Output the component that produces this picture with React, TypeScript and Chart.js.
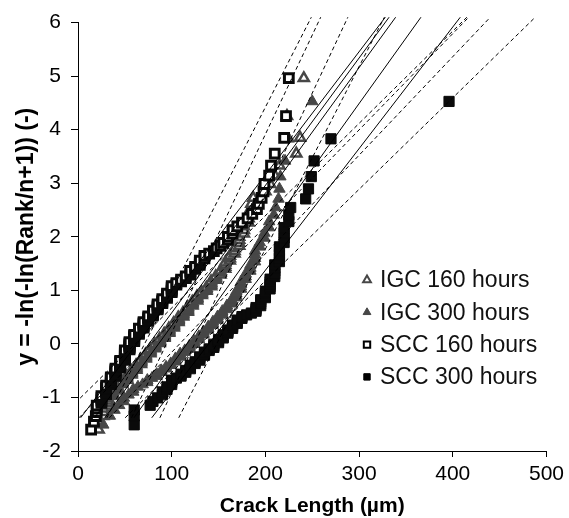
import React, { useEffect, useRef } from 'react';
import { Chart, registerables } from 'chart.js';

Chart.register(...registerables);

const FONT = "'Liberation Sans', Arial, Helvetica, sans-serif";

// Plotting positions y = -ln(-ln(Rank/(n+1))), n = 141 (160 h series)
const yN141 = [
  -1.601, -1.45, -1.35, -1.273, -1.208, -1.152, -1.102, -1.057, -1.015, -0.976,
  -0.939, -0.905, -0.872, -0.84, -0.81, -0.781, -0.753, -0.725, -0.699, -0.673,
  -0.648, -0.623, -0.599, -0.575, -0.552, -0.529, -0.507, -0.485, -0.463, -0.441,
  -0.42, -0.399, -0.378, -0.357, -0.337, -0.317, -0.296, -0.276, -0.256, -0.237,
  -0.217, -0.197, -0.178, -0.158, -0.139, -0.12, -0.1, -0.081, -0.062, -0.043,
  -0.024, -0.005, 0.015, 0.034, 0.053, 0.072, 0.091, 0.111, 0.13, 0.149,
  0.169, 0.188, 0.207, 0.227, 0.247, 0.266, 0.286, 0.306, 0.326, 0.346,
  0.367, 0.387, 0.408, 0.428, 0.449, 0.47, 0.491, 0.512, 0.534, 0.555,
  0.577, 0.6, 0.622, 0.644, 0.667, 0.69, 0.714, 0.737, 0.761, 0.785,
  0.81, 0.835, 0.86, 0.886, 0.912, 0.938, 0.965, 0.992, 1.02, 1.048,
  1.077, 1.106, 1.136, 1.167, 1.198, 1.23, 1.262, 1.296, 1.33, 1.365,
  1.401, 1.438, 1.477, 1.516, 1.556, 1.599, 1.642, 1.687, 1.733, 1.782,
  1.833, 1.885, 1.941, 1.999, 2.06, 2.124, 2.193, 2.265, 2.343, 2.427,
  2.518, 2.617, 2.726, 2.848, 2.986, 3.143, 3.33, 3.554, 3.849, 4.255,
  4.962,
];
// n = 92 (300 h series)
const yN92 = [
  -1.511, -1.345, -1.234, -1.146, -1.073, -1.008, -0.95, -0.897, -0.848, -0.802,
  -0.758, -0.717, -0.677, -0.638, -0.601, -0.565, -0.53, -0.496, -0.463, -0.43,
  -0.398, -0.366, -0.334, -0.303, -0.273, -0.243, -0.212, -0.183, -0.153, -0.123,
  -0.094, -0.065, -0.035, -0.006, 0.023, 0.052, 0.082, 0.111, 0.14, 0.17,
  0.2, 0.23, 0.26, 0.29, 0.32, 0.351, 0.382, 0.413, 0.445, 0.477,
  0.51, 0.542, 0.576, 0.61, 0.644, 0.679, 0.714, 0.75, 0.787, 0.825,
  0.864, 0.903, 0.943, 0.984, 1.027, 1.07, 1.115, 1.161, 1.209, 1.258,
  1.31, 1.363, 1.418, 1.476, 1.537, 1.6, 1.667, 1.738, 1.813, 1.893,
  1.979, 2.072, 2.173, 2.285, 2.409, 2.547, 2.708, 2.895, 3.124, 3.417,
  3.83, 4.528,
];

// Crack lengths (µm), sorted by rank (ties are measurement steps)
const scc160X = [
  14, 17, 19, 20, 20, 20, 25, 25, 25, 25,
  30, 30, 30, 30, 30, 30, 35, 35, 35, 35,
  35, 35, 40, 40, 40, 40, 40, 40, 40, 45,
  45, 45, 45, 45, 45, 45, 50, 50, 50, 50,
  50, 50, 50, 50, 50, 50, 55, 55, 55, 55,
  55, 55, 55, 55, 60, 60, 60, 60, 60, 60,
  60, 65, 65, 65, 65, 65, 65, 70, 70, 70,
  70, 70, 70, 75, 75, 75, 75, 75, 80, 80,
  80, 80, 80, 85, 85, 85, 85, 85, 90, 90,
  90, 90, 95, 95, 95, 95, 100, 100, 100, 100,
  100, 105, 105, 110, 110, 115, 115, 120, 120, 120,
  125, 125, 130, 130, 130, 135, 135, 140, 145, 148,
  152, 155, 160, 160, 165, 165, 170, 175, 181, 186,
  191, 193, 196, 198, 199, 204, 206, 210, 220, 222,
  225,
];
const igc160X = [
  22, 22, 27, 27, 27, 32, 32, 32, 32, 37,
  37, 37, 42, 42, 42, 42, 47, 47, 47, 52,
  52, 52, 52, 57, 57, 57, 57, 62, 62, 62,
  62, 62, 67, 67, 67, 67, 67, 72, 72, 72,
  72, 72, 77, 77, 77, 77, 77, 82, 82, 82,
  82, 82, 87, 87, 87, 87, 87, 92, 92, 92,
  92, 92, 97, 97, 97, 97, 97, 102, 102, 102,
  102, 102, 107, 107, 107, 107, 107, 112, 112, 112,
  112, 117, 117, 117, 117, 117, 122, 122, 122, 122,
  127, 127, 127, 127, 132, 132, 132, 137, 137, 137,
  142, 142, 142, 142, 147, 147, 147, 152, 152, 152,
  157, 157, 157, 157, 162, 162, 162, 167, 167, 167,
  172, 172, 172, 172, 177, 177, 177, 182, 182, 182,
  184, 185, 187, 200, 205, 210, 215, 233, 237, 223,
  241,
];
const igc300X = [
  27, 34, 39, 44, 49, 49, 54, 59, 59, 64,
  69, 74, 74, 79, 84, 84, 89, 89, 94, 94,
  99, 99, 104, 104, 104, 109, 109, 109, 114, 114,
  119, 119, 119, 124, 124, 124, 129, 129, 129, 134,
  134, 134, 139, 139, 139, 144, 144, 144, 149, 149,
  149, 154, 154, 154, 159, 159, 159, 164, 164, 164,
  169, 169, 169, 169, 174, 174, 174, 174, 179, 179,
  179, 184, 184, 184, 189, 189, 189, 189, 194, 194,
  199, 199, 204, 204, 209, 211, 214, 215, 216, 221,
  225, 250,
];
const scc300X = [
  60, 60, 60, 77, 80, 85, 90, 90, 95, 95,
  100, 100, 100, 105, 110, 110, 115, 115, 120, 120,
  120, 125, 125, 130, 130, 130, 135, 135, 135, 140,
  140, 145, 145, 145, 150, 150, 150, 155, 155, 155,
  160, 160, 160, 165, 165, 165, 170, 170, 170, 175,
  175, 180, 185, 190, 190, 190, 195, 195, 195, 195,
  200, 200, 200, 200, 205, 205, 205, 205, 205, 210,
  210, 210, 210, 210, 215, 215, 215, 215, 215, 220,
  220, 220, 220, 225, 225, 227, 243, 246, 249, 252,
  270, 396,
];

// Fitted lines (solid) and bounds (dashed): x at bottom and top ends
const lineBottomY = -1.38;
const lineTopY = 6.1;
const fitBottomX = [2.8, 17.6, 28.7, 59.7, 78.7];
const fitTopX = [328, 332, 339, 366, 408];
const boundBottomX = [30.8, -19, 57.1, 1.0, 87.4, 33.5, 107.5, 50.3];
const boundTopX = [249, 415, 259, 417, 288, 440, 327, 488];

const legendLabels = ['IGC 160 hours', 'IGC 300 hours', 'SCC 160 hours', 'SCC 300 hours'];
const xTicks = [0, 100, 200, 300, 400, 500];
const yTicks = [-2, -1, 0, 1, 2, 3, 4, 5, 6];

const GRAY = '#474747';

function drawMarker(ctx: CanvasRenderingContext2D, kind: number, x: number, y: number) {
  ctx.save();
  if (kind === 0 || kind === 1) {
    const r = 4.5;
    ctx.beginPath();
    ctx.moveTo(x, y - r);
    ctx.lineTo(x + r * 0.866, y + r * 0.5);
    ctx.lineTo(x - r * 0.866, y + r * 0.5);
    ctx.closePath();
    if (kind === 0) {
      ctx.fillStyle = '#fff';
      ctx.fill();
      ctx.lineWidth = 2;
      ctx.strokeStyle = GRAY;
      ctx.stroke();
    } else {
      ctx.fillStyle = GRAY;
      ctx.fill();
      ctx.lineWidth = 1;
      ctx.strokeStyle = GRAY;
      ctx.stroke();
    }
  } else {
    const s = 3.2;
    ctx.beginPath();
    ctx.rect(x - s, y - s, 2 * s, 2 * s);
    if (kind === 2) {
      ctx.fillStyle = '#fff';
      ctx.fill();
      ctx.lineWidth = 2;
      ctx.strokeStyle = '#000';
      ctx.stroke();
    } else {
      ctx.fillStyle = '#000';
      ctx.fill();
      ctx.lineWidth = 1;
      ctx.strokeStyle = '#000';
      ctx.stroke();
    }
  }
  ctx.restore();
}

const legendPlugin = {
  id: 'customLegend',
  afterDraw(chart: any) {
    const ctx: CanvasRenderingContext2D = chart.ctx;
    ctx.save();
    ctx.font = `23px ${FONT}`;
    ctx.textBaseline = 'middle';
    ctx.textAlign = 'left';
    legendLabels.forEach((label, i) => {
      const y = 280 + i * 32.3;
      drawMarker(ctx, i, 367, y);
      ctx.fillStyle = '#111';
      ctx.fillText(label, 380, y + 1);
    });
    ctx.restore();
  },
};

export default function App() {
  const ref = useRef<HTMLCanvasElement | null>(null);

  useEffect(() => {
    const pts = (xs: number[], ys: number[]) => xs.map((x, i) => ({ x, y: ys[i] }));
    const clip = { left: 0, top: 6, right: 0, bottom: 0 };
    const lineSets: any[] = [];
    fitBottomX.forEach((bx, i) => {
      lineSets.push({
        data: [{ x: bx, y: lineBottomY }, { x: fitTopX[i], y: lineTopY }],
        showLine: true,
        borderColor: '#000',
        borderWidth: 1,
        pointRadius: 0,
        clip,
      });
    });
    boundBottomX.forEach((bx, i) => {
      lineSets.push({
        data: [{ x: bx, y: lineBottomY }, { x: boundTopX[i], y: lineTopY }],
        showLine: true,
        borderColor: '#000',
        borderWidth: 1,
        borderDash: [4, 3],
        pointRadius: 0,
        clip,
      });
    });

    const scc300 = {
      data: pts(scc300X, yN92),
      pointStyle: 'rect',
      pointRadius: 7.2,
      backgroundColor: '#0a0a0a',
      borderColor: '#0a0a0a',
      borderWidth: 1,
      clip: 8,
    };
    const scc160 = {
      data: pts(scc160X, yN141),
      pointStyle: 'rect',
      pointRadius: 6.2,
      backgroundColor: '#fff',
      borderColor: '#0a0a0a',
      borderWidth: 3,
      clip: 8,
    };
    const igc300 = {
      data: pts(igc300X, yN92),
      pointStyle: 'triangle',
      pointRadius: 6.6,
      backgroundColor: GRAY,
      borderColor: GRAY,
      borderWidth: 1,
      clip: 8,
    };
    const igc160 = {
      data: pts(igc160X, yN141),
      pointStyle: 'triangle',
      pointRadius: 5.8,
      backgroundColor: '#fff',
      borderColor: GRAY,
      borderWidth: 2.5,
      clip: 8,
    };

    const tickFont = { family: FONT, size: 21 };
    const chart = new Chart(ref.current as HTMLCanvasElement, {
      type: 'scatter',
      data: { datasets: [...lineSets, scc300, scc160, igc300, igc160] as any },
      options: {
        responsive: false,
        animation: false,
        devicePixelRatio: 1,
        layout: { padding: { left: 0, right: 21, top: 20, bottom: 0 } },
        plugins: { legend: { display: false }, tooltip: { enabled: false } },
        scales: {
          x: {
            type: 'linear',
            min: 0,
            max: 500,
            afterBuildTicks: (s: any) => {
              s.ticks = xTicks.map((v) => ({ value: v }));
            },
            ticks: { color: '#000', font: tickFont, padding: 5, maxRotation: 0 },
            grid: { drawOnChartArea: false, drawTicks: true, tickLength: 6, color: '#000', tickColor: '#000' },
            border: { color: '#000', width: 1 },
            title: {
              display: true,
              text: 'Crack Length (µm)',
              color: '#000',
              font: { family: FONT, size: 21, weight: 'bold' },
              padding: { top: 0, bottom: -1 },
            },
            afterFit: (s: any) => {
              s.height = 67;
            },
          },
          y: {
            type: 'linear',
            min: -2,
            max: 6,
            afterBuildTicks: (s: any) => {
              s.ticks = yTicks.map((v) => ({ value: v }));
            },
            ticks: { color: '#000', font: tickFont, padding: 10 },
            grid: { drawOnChartArea: false, drawTicks: true, tickLength: 7, color: '#000', tickColor: '#000' },
            border: { color: '#000', width: 1 },
            title: {
              display: true,
              text: 'y = -ln(-ln(Rank/n+1)) (-)',
              color: '#000',
              font: { family: FONT, size: 23, weight: 'bold' },
              padding: { top: 13, bottom: 0 },
            },
            afterFit: (s: any) => {
              s.width = 78;
            },
          },
        },
      } as any,
      plugins: [legendPlugin],
    });
    return () => chart.destroy();
  }, []);

  return (
    <div style={{ position: 'absolute', left: 0, top: 0, width: 569, height: 518, background: '#fff' }}>
      <canvas ref={ref} width={569} height={518} style={{ width: 569, height: 518, display: 'block' }} />
    </div>
  );
}
